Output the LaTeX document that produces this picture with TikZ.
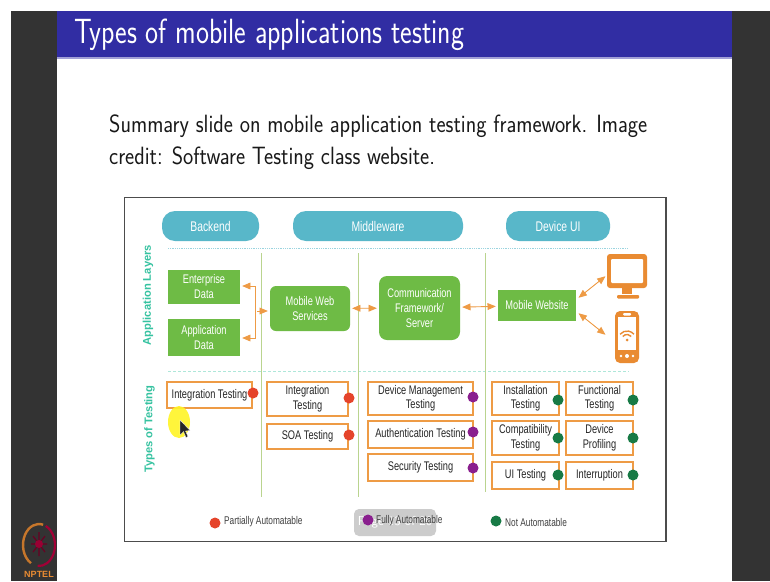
\documentclass[tikz,border=0pt]{standalone}
\usepackage{fontspec}
\usepackage{tikz}
\usetikzlibrary{arrows}
\usetikzlibrary{positioning}
\newfontfamily\diagfont[FakeStretch=0.74]{Liberation Sans}
\newfontfamily\sidefont{Liberation Sans}
\definecolor{slidedark}{HTML}{333333}
\definecolor{barblue}{HTML}{312DA3}
\definecolor{pillblue}{HTML}{58B7C9}
\definecolor{boxgreen}{HTML}{6EBB45}
\definecolor{boxorange}{HTML}{EE9B45}
\definecolor{iconorange}{HTML}{E98B32}
\definecolor{dotred}{HTML}{E5442B}
\definecolor{dotpurple}{HTML}{8A1F8E}
\definecolor{dotgreen}{HTML}{177A45}
\definecolor{sideteal}{HTML}{35C2A0}
\definecolor{linegreen}{HTML}{BAD48F}

\begin{document}
\begin{tikzpicture}[x=1pt,y=-1pt,inner sep=0pt,
    pill node/.style={rounded corners=13pt,fill=pillblue,text=white,font=\diagfont\fontsize{14}{16}\selectfont,align=center},
    green node/.style={fill=boxgreen,text=white,font=\diagfont\fontsize{12.5}{15}\selectfont,align=center},
    test node/.style={draw=boxorange,line width=1.2pt,fill=white,text=black!85,font=\diagfont\fontsize{12.5}{14.5}\selectfont,align=center},
    dot node/.style={circle,minimum size=11pt},
    legend node/.style={text=black!75,font=\diagfont\fontsize{11.2}{13}\selectfont,anchor=west},
    side node/.style={text=sideteal,font=\sidefont\bfseries\fontsize{11.2}{12}\selectfont,rotate=90},
    link/.style={<->,>=triangle 45,color=boxorange,line width=0.9pt,shorten <=2pt,shorten >=2pt},
    lane/.style={color=linegreen,line width=0.9pt}]
  % slide
  \useasboundingbox (0,0) rectangle (770,581);
  \fill[white] (0,0) rectangle (770,581);
  \fill[slidedark] (11,11) rectangle (770,581);
  \fill[white] (57,11) rectangle (732,581);
  \fill[barblue] (57,11) rectangle (732,57);
  \fill[barblue!45] (57,57) rectangle (732,59);
  \node[anchor=base west,text=white,font=\sffamily\fontsize{35}{35}\selectfont,xscale=0.79,transform shape] (title) at (74,43) {Types of mobile applications testing};
  \node[anchor=base west,text=black!90,font=\sffamily\fontsize{25}{25}\selectfont,xscale=0.87,transform shape] (lineone) at (109,132) {Summary slide on mobile application testing framework. Image};
  \node[anchor=base west,text=black!90,font=\sffamily\fontsize{25}{25}\selectfont,xscale=0.87,transform shape] (linetwo) at (109,164) {credit: Software Testing class website.};
  \draw[black!70,fill=white,line width=1.2pt] (124.5,197.5) rectangle (666,541.5);

  % headers
  \node[pill node,minimum width=97pt,minimum height=30pt] (backend) at (210.5,226) {Backend};
  \node[pill node,minimum width=170pt,minimum height=30pt] (middleware) at (378,226) {Middleware};
  \node[pill node,minimum width=104pt,minimum height=30pt] (deviceui) at (558,226) {Device UI};
  \draw[pillblue!60,densely dotted,line width=0.8pt] (168,248) -- (628,248);
  \draw[sideteal!40,densely dashed,line width=0.8pt] (168,371) -- (629,371);
  \draw[lane] (261,253) -- (261,497);
  \draw[lane] (358,253) -- (358,497);
  \draw[lane] (485,253) -- (485,492);
  \node[side node] (applayers) at (148,295) {Application Layers};
  \node[side node] (testtypes) at (149.5,429) {Types of Testing};

  % application layers
  \node[green node,minimum width=72pt,minimum height=34pt] (enterprise) at (204,287) {Enterprise\\Data};
  \node[green node,minimum width=72pt,minimum height=37pt] (appdata) at (204,337.5) {Application\\Data};
  \node[green node,rounded corners=6pt,minimum width=80pt,minimum height=45pt] (webservices) at (310,308.5) {Mobile Web\\Services};
  \node[green node,rounded corners=8pt,minimum width=81pt,minimum height=64pt] (commserver) at (419.5,308) {Communication\\Framework/\\Server};
  \node[green node,minimum width=78pt,minimum height=31pt] (website) at (537,305.5) {Mobile Website};

  % icons
  \fill[iconorange,rounded corners=3pt] (607,254) rectangle (647,288);
  \fill[white,rounded corners=1pt] (611,259) rectangle (643,283);
  \fill[iconorange] (622,288) rectangle (632,294);
  \fill[iconorange,rounded corners=1pt] (617,295) rectangle (639,298.5);
  \fill[iconorange,rounded corners=5pt] (615,311) rectangle (639,363);
  \fill[white] (618,317) rectangle (636,350);
  \fill[white,rounded corners=1pt] (623,313) rectangle (631,315.5);
  \fill[white] (621,356) circle (1.3);
  \fill[white] (627,356) circle (2);
  \fill[white] (633,356) circle (1.3);
  \draw[iconorange,line width=1.4pt] (627,340) ++(220:9) arc (220:320:9);
  \draw[iconorange,line width=1.4pt] (627,340) ++(220:5.5) arc (220:320:5.5);
  \fill[iconorange] (627,340) circle (1.5);

  % connectors
  \coordinate (fork) at (255,311);
  \coordinate (forktop) at (255,286);
  \coordinate (forkbot) at (255,338);
  \coordinate (siteup) at (577,299);
  \coordinate (sitedown) at (577,312);
  \coordinate (monitor) at (607,275);
  \coordinate (phone) at (607,336);
  \draw[link,<-] (webservices.west |- fork) -- (fork);
  \draw[link] (enterprise.east |- forktop) -- (forktop) -- (forkbot) -- (appdata.east |- forkbot);
  \path[link] (webservices) edge (commserver);
  \path[link] (commserver) edge (website);
  \path[link] (siteup) edge (monitor);
  \path[link] (sitedown) edge (phone);

  % types of testing
  \node[test node,minimum width=85pt,minimum height=26pt] (integrationa) at (209.5,395) {Integration Testing};
  \node[test node,minimum width=81pt,minimum height=34pt] (integrationb) at (307.5,399) {Integration\\Testing};
  \node[test node,minimum width=81pt,minimum height=25pt] (soa) at (307.5,436.5) {SOA Testing};
  \node[test node,minimum width=105pt,minimum height=33pt] (devicemgmt) at (420.5,398.5) {Device Management\\Testing};
  \node[test node,minimum width=105pt,minimum height=27pt] (authentication) at (420.5,434.5) {Authentication Testing};
  \node[test node,minimum width=105pt,minimum height=27pt] (security) at (420.5,467.5) {Security Testing};
  \node[test node,minimum width=67pt,minimum height=33pt] (installation) at (525.5,398.5) {Installation\\Testing};
  \node[test node,minimum width=67pt,minimum height=34pt] (compatibility) at (525.5,438) {Compatibility\\Testing};
  \node[test node,minimum width=67pt,minimum height=27pt] (uitesting) at (525.5,475.5) {UI Testing};
  \node[test node,minimum width=67pt,minimum height=33pt] (functional) at (599.5,398.5) {Functional\\Testing};
  \node[test node,minimum width=67pt,minimum height=34pt] (profiling) at (599.5,438) {Device\\Profiling};
  \node[test node,minimum width=67pt,minimum height=27pt] (interruption) at (599.5,475.5) {Interruption};

  \node[dot node,fill=dotred] (dota) at (253,393) {};
  \node[dot node,fill=dotred] (dotb) at (349,398) {};
  \node[dot node,fill=dotred] (dotc) at (349,435) {};
  \node[dot node,fill=dotpurple] (dotd) at (473,397) {};
  \node[dot node,fill=dotpurple] (dote) at (473,432) {};
  \node[dot node,fill=dotpurple] (dotf) at (473,468) {};
  \node[dot node,fill=dotgreen] (dotg) at (558,400) {};
  \node[dot node,fill=dotgreen] (doth) at (558,438) {};
  \node[dot node,fill=dotgreen] (doti) at (558,475) {};
  \node[dot node,fill=dotgreen] (dotj) at (633,400) {};
  \node[dot node,fill=dotgreen] (dotk) at (633,438) {};
  \node[dot node,fill=dotgreen] (dotl) at (633,475) {};

  % legend
  \node[dot node,fill=dotred] (partdot) at (215,523) {};
  \node[legend node] (parttext) at (224,522) {Partially Automatable};
  \node[fill=black!20,rounded corners=5pt,minimum width=82pt,minimum height=27pt,text=white,font=\sffamily\fontsize{13}{13}\selectfont] (pagebox) at (395,522.5) {Page 13 of 20};
  \node[dot node,fill=dotpurple] (fulldot) at (368,520) {};
  \node[legend node] (fulltext) at (376,521) {Fully Automatable};
  \node[dot node,fill=dotgreen] (notdot) at (496,521) {};
  \node[legend node] (nottext) at (505,522) {Not Automatable};

  % pointer
  \fill[yellow!85!white,opacity=0.9] (179,422) ellipse (11 and 16);
  \fill[black!85,draw=white,line width=0.3pt] (180,420) -- (180,435) -- (183.5,431.5) -- (186,437.5) -- (188,436.5) -- (185.5,431) -- (190,430.5) -- cycle;

  % logo
  \draw[iconorange!85!black,line width=2.4pt] (39,545) ++(120:16 and 21) arc (120:285:16 and 21);
  \draw[purple!85!black,line width=2.2pt] (39,545) ++(295:16 and 21) arc (295:455:16 and 21);
  \draw[purple!55!black,line width=1.2pt] (39,532) -- (39,556) (31,544) -- (47,544) (33,536) -- (45,552) (45,536) -- (33,552);
  \fill[purple!80!black] (39,544) circle (4);
  \node[text=iconorange,font=\sidefont\bfseries\fontsize{9}{9}\selectfont] (nptel) at (39,574) {NPTEL};
\end{tikzpicture}
\end{document}
